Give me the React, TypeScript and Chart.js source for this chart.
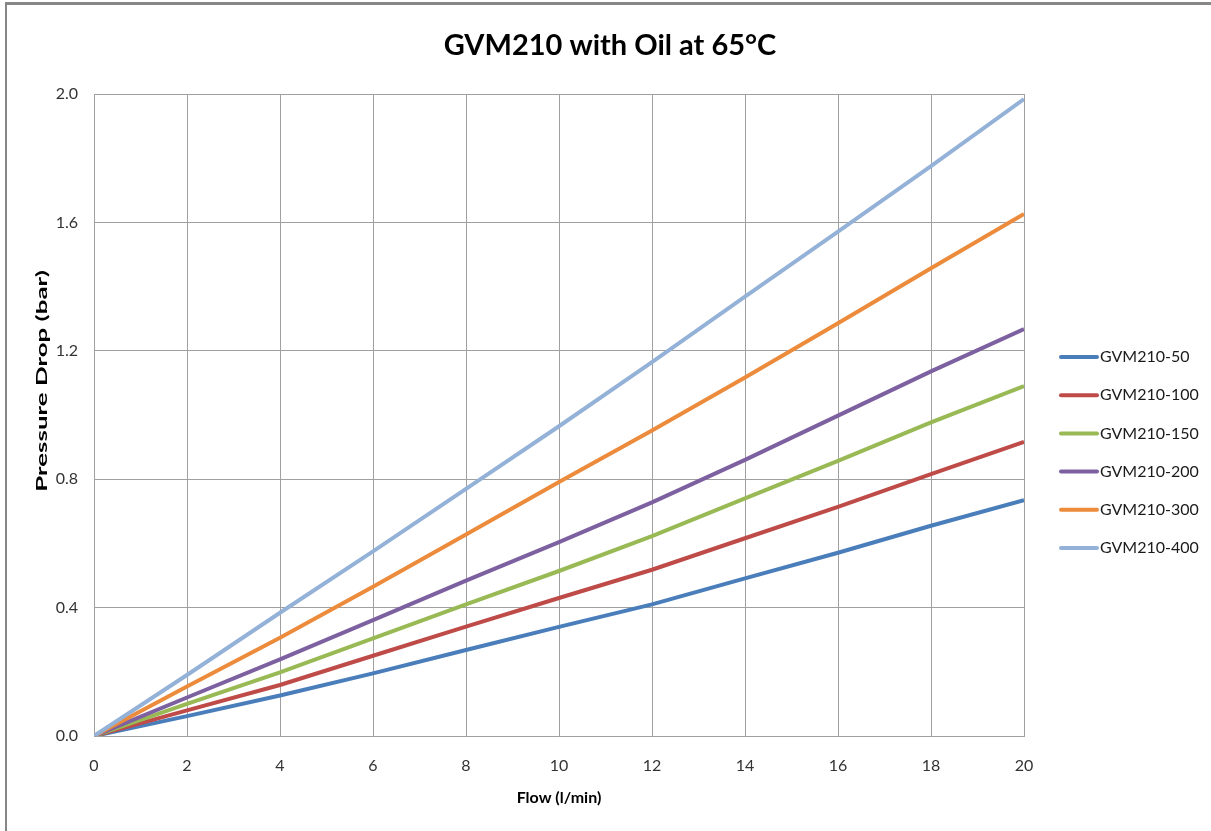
import React, { useEffect, useRef } from "react";
import { Chart, registerables } from "chart.js";

Chart.register(...registerables);

const flow = [0, 2, 4, 6, 8, 10, 12, 14, 16, 18, 20];
const gvm50 = [0, 0.062, 0.126, 0.195, 0.268, 0.34, 0.41, 0.491, 0.571, 0.655, 0.735];
const gvm100 = [0, 0.08, 0.159, 0.25, 0.341, 0.43, 0.518, 0.616, 0.714, 0.816, 0.916];
const gvm150 = [0, 0.1, 0.198, 0.304, 0.41, 0.514, 0.623, 0.74, 0.857, 0.977, 1.09];
const gvm200 = [0, 0.12, 0.239, 0.361, 0.484, 0.604, 0.728, 0.86, 0.998, 1.136, 1.268];
const gvm300 = [0, 0.154, 0.306, 0.465, 0.628, 0.791, 0.952, 1.117, 1.286, 1.457, 1.626];
const gvm400 = [0, 0.19, 0.384, 0.575, 0.77, 0.965, 1.165, 1.369, 1.571, 1.775, 1.984];

const seriesLabels = ["GVM210-50", "GVM210-100", "GVM210-150", "GVM210-200", "GVM210-300", "GVM210-400"];
const seriesValues = [gvm50, gvm100, gvm150, gvm200, gvm300, gvm400];
const seriesColors = ["#4A7EBB", "#BE4B48", "#98B954", "#7D60A0", "#EC8B3B", "#94B1D8"];

const titleText = "GVM210 with Oil at 65°C";
const xTitle = "Flow (l/min)";
const yTitle = "Pressure Drop (bar)";

const FONT = "Lato, 'Open Sans', sans-serif";

const customPlugin = {
  id: "customTextAndLegend",
  afterDraw(chart: any) {
    const ctx = chart.ctx;
    // chart title
    ctx.save();
    ctx.font = `bold 29px ${FONT}`;
    ctx.fillStyle = "#000";
    ctx.textAlign = "center";
    ctx.textBaseline = "middle";
    ctx.fillText(titleText, 610, 46);
    ctx.restore();

    // y axis title (stretched along its length like the original)
    ctx.save();
    ctx.translate(42, 381);
    ctx.rotate(-Math.PI / 2);
    ctx.scale(1.62, 1);
    ctx.font = `bold 16px ${FONT}`;
    ctx.fillStyle = "#000";
    ctx.textAlign = "center";
    ctx.textBaseline = "middle";
    ctx.fillText(yTitle, 0, 0);
    ctx.restore();

    // legend
    ctx.save();
    ctx.font = `16px ${FONT}`;
    ctx.textAlign = "left";
    ctx.textBaseline = "middle";
    chart.data.datasets.forEach((ds: any, i: number) => {
      const y = 357 + i * 38.2;
      ctx.strokeStyle = ds.borderColor;
      ctx.lineWidth = 4;
      ctx.lineCap = "round";
      ctx.beginPath();
      ctx.moveTo(1061, y);
      ctx.lineTo(1097, y);
      ctx.stroke();
      ctx.fillStyle = "#1a1a1a";
      ctx.fillText(ds.label, 1100, y);
    });
    ctx.restore();
  },
};

export default function App() {
  const canvasRef = useRef<HTMLCanvasElement | null>(null);

  useEffect(() => {
    if (!canvasRef.current) return;
    const datasets = seriesLabels.map((label, i) => ({
      label,
      data: flow.map((x, j) => ({ x, y: seriesValues[i][j] })),
      borderColor: seriesColors[i],
      backgroundColor: seriesColors[i],
      borderWidth: 4,
      pointRadius: 0,
      tension: 0,
      order: seriesLabels.length - i,
    }));
    const chart = new Chart(canvasRef.current, {
      type: "line",
      data: { datasets },
      options: {
        animation: false,
        responsive: false,
        layout: { padding: { left: 0, right: 187, top: 94, bottom: 0 } },
        plugins: {
          legend: { display: false },
          tooltip: { enabled: false },
          title: { display: false },
        },
        scales: {
          x: {
            type: "linear",
            min: 0,
            max: 20,
            ticks: {
              stepSize: 2,
              padding: 20,
              color: "#333",
              font: { family: FONT, size: 16 },
            },
            grid: { color: "#a0a0a0", drawTicks: false, lineWidth: 1 },
            border: { color: "#a0a0a0" },
            title: {
              display: true,
              text: xTitle,
              color: "#000",
              font: { family: FONT, size: 16, weight: "bold" },
              padding: { top: 0, bottom: 24 },
            },
            afterFit: (s: any) => {
              s.height = 95;
            },
          },
          y: {
            type: "linear",
            min: 0,
            max: 2,
            ticks: {
              stepSize: 0.4,
              padding: 16,
              color: "#333",
              font: { family: FONT, size: 16 },
              callback: (v: any) => Number(v).toFixed(1),
            },
            grid: { color: "#a0a0a0", drawTicks: false, lineWidth: 1 },
            border: { color: "#a0a0a0" },
            afterFit: (s: any) => {
              s.width = 94;
            },
          },
        },
      },
      plugins: [customPlugin],
    });
    return () => chart.destroy();
  }, []);

  return (
    <div style={{ position: "absolute", left: 0, top: 0, width: 1211, height: 831, background: "#fff" }}>
      <canvas ref={canvasRef} width={1211} height={831} style={{ position: "absolute", left: 0, top: 0, width: 1211, height: 831 }} />
      <div style={{ position: "absolute", left: 5, top: 2, width: 1206, height: 3, background: "#878787" }} />
      <div style={{ position: "absolute", left: 5, top: 2, width: 2, height: 829, background: "#878787" }} />
    </div>
  );
}
